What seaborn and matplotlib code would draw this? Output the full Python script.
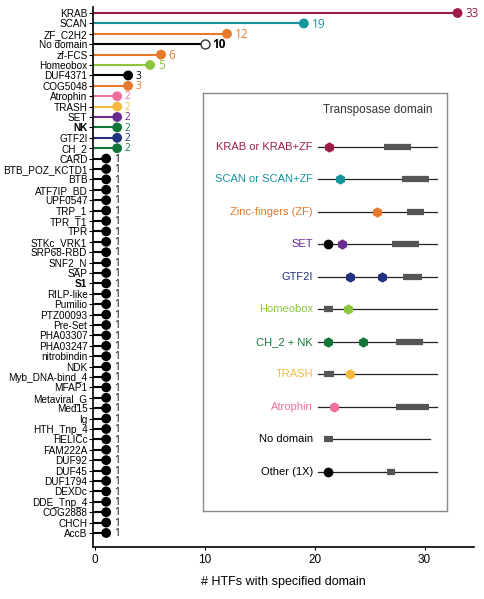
import matplotlib
matplotlib.use('Agg')
import numpy as np
import pandas as pd
import matplotlib.pyplot as plt
import seaborn as sns

# lollipop data, top to bottom
domains = ['KRAB', 'SCAN', 'ZF_C2H2', 'No domain', 'zf-FCS', 'Homeobox', 'DUF4371', 'COG5048',
           'Atrophin', 'TRASH', 'SET', 'NK', 'GTF2I', 'CH_2', 'CARD', 'BTB_POZ_KCTD1', 'BTB',
           'ATF7IP_BD', 'UPF0547', 'TRP_1', 'TPR_T1', 'TPR', 'STKc_VRK1', 'SRP68-RBD', 'SNF2_N',
           'SAP', 'S1', 'RILP-like', 'Pumilio', 'PTZ00093', 'Pre-Set', 'PHA03307', 'PHA03247',
           'nitrobindin', 'NDK', 'Myb_DNA-bind_4', 'MFAP1', 'Metaviral_G', 'Med15', 'Ig',
           'HTH_Tnp_4', 'HELICc', 'FAM222A', 'DUF92', 'DUF45', 'DUF1794', 'DEXDc', 'DDE_Tnp_4',
           'COG2888', 'CHCH', 'AccB']
counts = [33, 19, 12, 10, 6, 5, 3, 3, 2, 2, 2, 2, 2, 2, 1, 1, 1,
          1, 1, 1, 1, 1, 1, 1, 1, 1, 1, 1, 1, 1, 1, 1, 1,
          1, 1, 1, 1, 1, 1, 1, 1, 1, 1, 1, 1, 1, 1, 1, 1, 1, 1]

MAROON = '#9c1c4a'
TEAL = '#15959c'
ORANGE = '#e8792b'
LGREEN = '#8cc63f'
PINK = '#ef6fa0'
GOLD = '#f6b940'
PURPLE = '#6a2b8e'
DGREEN = '#14773a'
NAVY = '#22307e'
BLACK = '#000000'

row_colors = [MAROON, TEAL, ORANGE, BLACK, ORANGE, LGREEN, BLACK, ORANGE,
              PINK, GOLD, PURPLE, DGREEN, NAVY, DGREEN] + [BLACK] * 37

# schematic legend (positions along a 0-100 protein length)
schema_names = ['KRAB or KRAB+ZF', 'SCAN or SCAN+ZF', 'Zinc-fingers (ZF)', 'SET', 'GTF2I',
                'Homeobox', 'CH_2 + NK', 'TRASH', 'Atrophin', 'No domain', 'Other (1X)']
schema_colors = [MAROON, TEAL, ORANGE, PURPLE, NAVY, LGREEN, DGREEN, GOLD, PINK, BLACK, BLACK]
schema_start = [47, 47, 47, 47, 47, 47, 47, 47, 47, 49.6, 47]
schema_end = [96, 96, 96, 96, 96, 96, 96, 96, 96, 93, 96]
schema_hex = [[51.6], [56.1], [71.3], [57.0], [60.2, 73.4], [59.4], [51.2, 65.6], [60.2], [53.7], [], []]
schema_dot = [[], [], [], [51.2], [], [], [], [], [], [], [51.2]]
schema_tpase = [(74.2, 85.2), (81.6, 92.6), (83.6, 90.6), (77.5, 88.5), (82.0, 89.8), (49.6, 53.3),
                (79.1, 90.2), (49.6, 53.7), (79.1, 92.6), (49.6, 53.3), (75.4, 78.7)]

plt.rcParams['font.family'] = ['Liberation Sans', 'DejaVu Sans']

df = pd.DataFrame({'domain': domains, 'count': counts, 'pos': np.arange(len(domains))})
palette = dict(zip(domains, row_colors))

fig = plt.figure(figsize=(4.84, 5.99), dpi=100)
ax = fig.add_axes([93 / 484, 1 - 547 / 599, (474 - 93) / 484, (547 - 7) / 599])

xmin = -0.2
ax.hlines(df['pos'], xmin, df['count'], colors=row_colors, lw=1.5, zorder=1)
filled = df[df['domain'] != 'No domain']
sns.scatterplot(data=filled, x='count', y='pos', hue='domain', palette=palette,
                s=50, linewidth=0, legend=False, ax=ax, zorder=3)
nod = df[df['domain'] == 'No domain']
ax.scatter(nod['count'], nod['pos'], s=42, facecolor='white', edgecolor='#333333',
           linewidth=1.0, zorder=3)

for _, r in df.iterrows():
    c = palette[r['domain']]
    bold = r['domain'] == 'No domain'
    fs = 8.5 if r['count'] > 3 else 7.2
    ax.annotate(str(r['count']), (r['count'], r['pos']), xytext=(5.5, -0.5),
                textcoords='offset points', va='center', ha='left', fontsize=fs,
                color=c, fontweight='bold' if bold else 'normal',
                family=['Open Sans', 'DejaVu Sans'])

ax.set_xlim(xmin, 34.5)
ax.set_ylim(len(domains) - 1 + 1.35, -0.58)
ax.set_yticks(df['pos'])
ax.set_yticklabels(domains, fontsize=7.2)
for lab in ax.get_yticklabels():
    if lab.get_text() in ('NK', 'S1'):
        lab.set_fontweight('bold')
ax.set_xticks([0, 10, 20, 30])
ax.tick_params(axis='x', labelsize=8.5, length=2, pad=3)
ax.tick_params(axis='y', length=3, pad=1, width=0.8)
ax.set_xlabel('# HTFs with specified domain', fontsize=9, labelpad=7)
ax.set_ylabel('')
sns.despine(ax=ax)
for s in ('left', 'bottom'):
    ax.spines[s].set_linewidth(1.2)
ax.grid(False)

# inset schematic box
ins = fig.add_axes([203 / 484, 1 - 511 / 599, 244 / 484, 418 / 599])
ins.set_xlim(0, 100)
ins.set_ylim(11.2, -1.66)
ins.set_xticks([])
ins.set_yticks([])
for s in ins.spines.values():
    s.set_color('#8a8a8a')
    s.set_linewidth(1.0)
ins.text(71.5, -1.15, 'Transposase domain', fontsize=8.5, ha='center', va='center', color='#333333')
for i, name in enumerate(schema_names):
    col = schema_colors[i]
    ins.text(45, i, name, ha='right', va='center', fontsize=8, color=col)
    ins.plot([schema_start[i], schema_end[i]], [i, i], color='#222222', lw=0.9, zorder=1)
    a, b = schema_tpase[i]
    ins.plot([a, b], [i, i], color='#555555', lw=4.5, solid_capstyle='butt', zorder=2)
    if schema_hex[i]:
        ins.plot(schema_hex[i], [i] * len(schema_hex[i]), 'h', color=col, ms=7.5, mew=0, zorder=3)
    if schema_dot[i]:
        ins.plot(schema_dot[i], [i] * len(schema_dot[i]), 'o', color='black', ms=7, mew=0, zorder=3)

fig.savefig('out.png', dpi=100)
